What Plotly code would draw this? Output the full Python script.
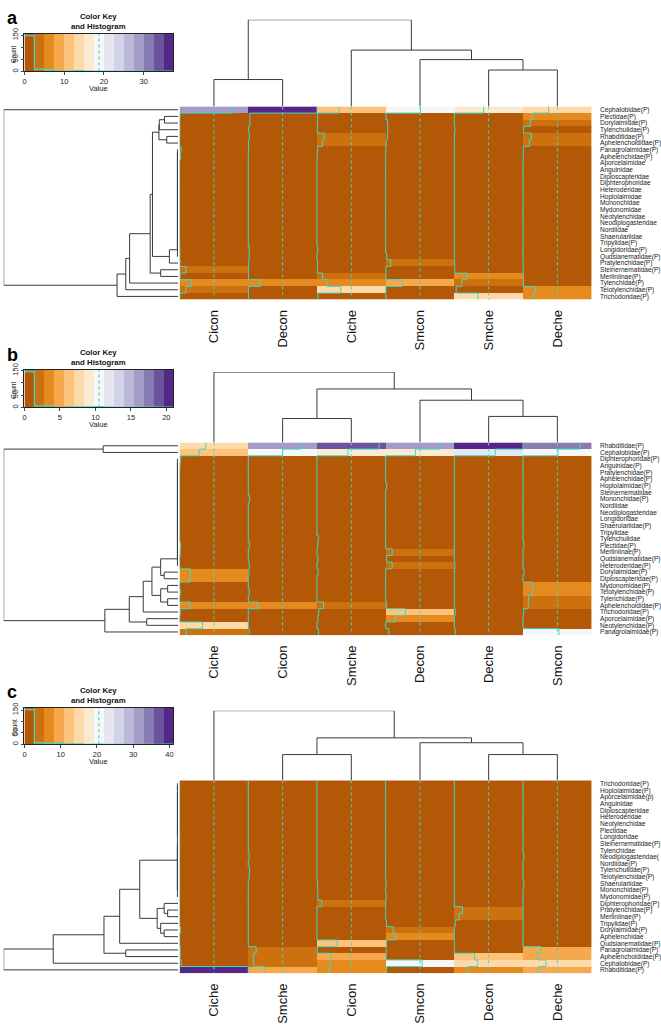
import numpy as np
import plotly.graph_objects as go

W, H = 661, 1024

# ------------------------------------------------------------------ data
anchor_colors = ["#b35806", "#e08214", "#fdb863", "#fee0b6", "#f7f7f7",
                 "#d8daeb", "#b2abd2", "#8073ac", "#542788"]
n_colors = 15


def comb(leaves, h):
    """left-deep merge of (near) identical rows at height h"""
    node = leaves[0]
    for leaf in leaves[1:]:
        node = [h, node, leaf]
    return node


samples_a = ["Cicon", "Decon", "Ciche", "Smcon", "Smche", "Deche"]
families_a = ["Cephalobidae(P)", "Plectidae(P)", "Dorylaimidae(P)", "Tylenchulidae(P)", "Rhabditidae(P)",
              "Aphelenchoididae(P)", "Panagrolaimidae(P)", "Aphelenchidae(P)", "Aporcelaimidae", "Anguinidae",
              "Diploscapteridae", "Diphterophoridae", "Heteroderidae", "Hoplolaimidae", "Mononchidae",
              "Mydonomidae", "Neotylenchidae", "Neodiplogasteridae", "Nordiidae", "Shaerulariidae",
              "Tripylidae(P)", "Longidoridae(P)", "Qudsianematidae(P)", "Pratylenchidae(P)",
              "Steinernematidae(P)", "Merliniinae(P)", "Tylenchidae(P)", "Telotylenchidae(P)", "Trichodoridae(P)"]
values_a = [
    [29.0, 37.5, 12.0, 19.0, 16.0, 14.0],
    [0.2, 0.9, 0.4, 0.2, 0.0, 5.0],
    [0.1, 0.9, 0.3, 1.0, 0.0, 4.0],
    [0.1, 0.2, 0.2, 1.2, 0.3, 0.3],
    [0.1, 0.6, 4.0, 1.0, 0.1, 4.5],
    [0.0, 0.2, 3.0, 0.3, 0.0, 3.5],
    [0.8, 0.1, 0.4, 0.1, 0.0, 0.2],
    [0.5, 0.0, 0.1, 0.0, 0.0, 0.1],
    [0.0, 0.0, 0.0, 0.0, 0.0, 0.0],
    [0.0, 0.0, 0.0, 0.0, 0.0, 0.0],
    [0.0, 0.0, 0.0, 0.0, 0.0, 0.0],
    [0.0, 0.0, 0.0, 0.0, 0.0, 0.0],
    [0.0, 0.0, 0.0, 0.0, 0.0, 0.0],
    [0.0, 0.0, 0.0, 0.0, 0.0, 0.0],
    [0.0, 0.0, 0.0, 0.0, 0.0, 0.0],
    [0.0, 0.0, 0.0, 0.0, 0.0, 0.0],
    [0.0, 0.0, 0.0, 0.0, 0.0, 0.0],
    [0.0, 0.0, 0.0, 0.0, 0.0, 0.0],
    [0.0, 0.0, 0.0, 0.0, 0.0, 0.0],
    [0.0, 0.0, 0.0, 0.0, 0.0, 0.0],
    [0.0, 0.0, 0.0, 0.0, 0.0, 0.0],
    [0.1, 0.5, 0.4, 0.0, 0.0, 0.0],
    [0.1, 0.5, 0.0, 0.6, 0.0, 0.0],
    [0.2, 0.3, 0.3, 2.9, 0.2, 0.1],
    [3.4, 0.1, 0.2, 0.1, 0.2, 0.1],
    [0.3, 0.1, 3.0, 0.2, 7.0, 0.2],
    [6.3, 6.5, 5.4, 9.0, 4.1, 0.3],
    [3.4, 0.1, 13.0, 0.1, 1.0, 6.8],
    [0.3, 0.1, 0.5, 0.1, 13.0, 5.8],
]
col_tree_a = [1.0, [0.31, 0, 1], [0.65, 2, [0.54, 3, [0.42, 4, 5]]]]
zero_a = [0.05, comb(list(range(6, 23)), 0.004), 23]
top_a = [0.11, [0.108, [0.078, 1, 2], 3], [0.065, 4, 5]]
row_tree_a = [1.0, 0, [0.35, [0.30, [0.278, [0.16, [0.147, top_a, zero_a], [0.1, 24, 25]], 26], 27], 28]]

samples_b = ["Ciche", "Cicon", "Smche", "Decon", "Deche", "Smcon"]
families_b = ["Rhabditidae(P)", "Cephalobidae(P)", "Diphterophoridae(P)", "Anguinidae(P)", "Pratylenchidae(P)",
              "Aphelenchidae(P)", "Hoplolaimidae(P)", "Steinernematidae", "Mononchidae(P)", "Nordiidae",
              "Neodiplogasteridae", "Longidoridae", "Shaerulariidae(P)", "Tripylidae", "Tylenchulidae",
              "Plectidae(P)", "Merliniinae(P)", "Qudsianematidae(P)", "Heteroderidae(P)", "Dorylaimidae(P)",
              "Diploscapteridae(P)", "Mydonomidae(P)", "Telotylenchidae(P)", "Tylenchidae(P)",
              "Aphelenchoididae(P)", "Trichodoridae(P)", "Aporcelaimidae(P)", "Neotylenchidae(P)",
              "Panagrolaimidae(P)"]
values_b = [
    [8.0, 16.0, 19.0, 16.5, 21.0, 17.5],
    [6.0, 10.5, 9.5, 9.1, 12.5, 10.7],
    [0.3, 0.0, 0.0, 0.0, 0.0, 0.0],
    [0.1, 0.0, 0.0, 0.0, 0.0, 0.0],
    [0.0, 0.0, 0.0, 0.0, 0.0, 0.0],
    [0.0, 0.0, 0.0, 0.0, 0.0, 0.0],
    [0.0, 0.0, 0.0, 0.3, 0.0, 0.0],
    [0.0, 0.0, 0.0, 0.0, 0.0, 0.0],
    [0.0, 0.4, 0.0, 0.0, 0.0, 0.0],
    [0.0, 0.0, 0.0, 0.0, 0.0, 0.0],
    [0.0, 0.0, 0.0, 0.0, 0.0, 0.0],
    [0.0, 0.0, 0.0, 0.0, 0.0, 0.0],
    [0.0, 0.0, 0.0, 0.0, 0.0, 0.0],
    [0.0, 0.0, 0.0, 0.0, 0.0, 0.0],
    [0.0, 0.0, 0.4, 0.0, 0.0, 0.0],
    [0.3, 0.3, 0.2, 0.0, 0.0, 0.3],
    [0.2, 0.0, 0.0, 2.0, 0.0, 0.0],
    [0.0, 0.0, 0.3, 0.3, 0.0, 0.0],
    [0.0, 0.3, 0.0, 2.0, 0.2, 0.0],
    [3.3, 0.2, 0.3, 0.0, 0.0, 0.3],
    [3.2, 0.0, 0.0, 0.0, 0.0, 0.0],
    [0.0, 0.0, 0.0, 0.0, 0.0, 2.9],
    [0.2, 0.3, 0.0, 0.0, 0.0, 3.0],
    [0.0, 0.0, 0.0, 0.0, 0.0, 1.7],
    [3.2, 3.0, 2.0, 0.3, 0.0, 1.6],
    [0.2, 0.0, 0.5, 6.0, 0.3, 0.2],
    [0.0, 0.0, 0.3, 3.0, 0.0, 0.0],
    [7.0, 0.0, 0.0, 0.0, 0.0, 0.0],
    [2.0, 0.3, 0.5, 1.0, 0.3, 11.0],
]
col_tree_b = [1.0, 0, [0.76, [0.34, 1, 2], [0.6, 3, [0.37, 4, 5]]]]
zero_b = comb(list(range(2, 19)), 0.004)
mid_b = [0.15, [0.1, zero_b, [0.08, 19, 20]], [0.1, [0.06, 21, 22], [0.06, 23, 24]]]
row_tree_b = [1.0, [0.43, 0, 1], [0.42, [0.28, [0.2, mid_b, 25], [0.18, 26, 27]], 28]]

samples_c = ["Ciche", "Smche", "Cicon", "Smcon", "Decon", "Deche"]
families_c = ["Trichodoridae(P)", "Hoplolaimidae(P)", "Aporcelaimidae(p)", "Anguinidae", "Diploscapteridae",
              "Heteroderidae", "Neotylenchidae", "Plectidae", "Longidoridae", "Steinernematidae(P)",
              "Tylenchidae", "Neodiplogasteridae(", "Nordiidae(P)", "Tylenchulidae(P)", "Telotylenchidae(P)",
              "Shaerulariidae", "Mononchidae(P)", "Mydonomidae(P)", "Diphterophoridae(P)", "Pratylenchidae(P)",
              "Merliniinae(P)", "Tripylidae(P)", "Dorylaimidae(P)", "Aphelenchidae", "Qudsianematidae(P)",
              "Panagrolaimidae(P)", "Aphelenchoididae(P)", "Cephalobidae(P)", "Rhabditidae(P)"]
values_c = [
    [0.0, 0.0, 0.0, 0.0, 0.0, 0.0],
    [0.0, 0.0, 0.0, 0.0, 0.0, 0.0],
    [0.0, 0.0, 0.0, 0.0, 0.0, 0.0],
    [0.0, 0.0, 0.0, 0.0, 0.0, 0.0],
    [0.0, 0.0, 0.0, 0.0, 0.0, 0.0],
    [0.0, 0.0, 0.0, 0.0, 0.0, 0.0],
    [0.0, 0.0, 0.0, 0.0, 0.0, 0.0],
    [0.0, 0.0, 0.0, 0.0, 0.0, 0.0],
    [0.0, 0.0, 0.0, 0.0, 0.0, 0.0],
    [0.0, 0.0, 0.0, 0.0, 0.0, 0.0],
    [0.0, 0.0, 0.0, 0.0, 0.0, 0.0],
    [0.0, 0.5, 0.0, 0.0, 0.0, 0.5],
    [0.0, 0.0, 0.0, 0.0, 0.0, 0.0],
    [0.0, 0.8, 0.0, 0.0, 0.0, 0.0],
    [0.0, 0.5, 0.0, 0.0, 0.0, 0.0],
    [0.0, 0.0, 0.3, 0.3, 0.0, 0.5],
    [0.0, 0.0, 0.5, 0.0, 0.0, 0.0],
    [0.0, 0.0, 0.5, 0.3, 0.0, 0.0],
    [0.0, 0.0, 2.9, 0.0, 0.0, 0.0],
    [0.0, 0.0, 0.0, 0.0, 4.9, 0.0],
    [0.0, 0.0, 0.0, 0.0, 2.8, 0.0],
    [0.0, 0.0, 0.0, 0.5, 0.5, 0.0],
    [0.5, 0.0, 0.0, 4.5, 0.0, 0.0],
    [0.0, 0.0, 0.0, 6.0, 0.0, 0.0],
    [0.0, 0.0, 12.0, 0.5, 0.0, 0.0],
    [0.4, 4.7, 0.2, 0.4, 0.0, 10.7],
    [0.3, 3.0, 8.5, 0.3, 12.0, 8.7],
    [1.0, 3.0, 8.0, 21.8, 14.0, 13.7],
    [41.0, 10.0, 7.0, 0.5, 8.0, 9.0],
]
col_tree_c = [1.0, 0, [0.61, [0.37, 1, 2], [0.54, 3, [0.37, 4, 5]]]]
zero_c = [0.004, comb(list(range(0, 9)), 0.004), comb(list(range(9, 18)), 0.004)]
low_c = [0.12, [0.08, 18, [0.06, 19, 20]], [0.1, 21, [0.08, 22, 23]]]
row_tree_c = [1.0, [0.716, [0.425, [0.335, [0.22, zero_c, low_c], 24], [0.30, 25, 26]], 27], 28]

# ------------------------------------------------------------------ geometry (pixels)
panels = [
    dict(letter="a", letter_y=0, samples=samples_a, families=families_a, values=values_a,
         col_tree=col_tree_a, row_tree=row_tree_a, key_ticks=[0, 10, 20, 30],
         hm=(179.5, 596.0, 102.3, 299.3), cd_top=14.0, rd_left=1.7, key=(22.7, 173.3, 28.3, 66.7)),
    dict(letter="b", letter_y=343, samples=samples_b, families=families_b, values=values_b,
         col_tree=col_tree_b, row_tree=row_tree_b, key_ticks=[0, 5, 10, 15, 20],
         hm=(179.5, 596.0, 444.7, 641.2), cd_top=373.0, rd_left=1.7, key=(22.7, 173.3, 370.5, 409.0)),
    dict(letter="c", letter_y=687, samples=samples_c, families=families_c, values=values_c,
         col_tree=col_tree_c, row_tree=row_tree_c, key_ticks=[0, 10, 20, 30, 40],
         hm=(179.5, 596.0, 789.0, 985.5), cd_top=718.0, rd_left=1.7, key=(22.7, 173.0, 715.0, 752.3)),
]

TRACE = "#3fd8c8"
LINE = "#3a3a3a"
FONT = "Liberation Sans, Arial, sans-serif"


def fx(x):
    return x / W


def fy(y):
    return 1 - y / H


def hex2rgb(h):
    return np.array([int(h[i:i + 2], 16) for i in (1, 3, 5)], dtype=float)


def ramp(anchors, n):
    arr = np.array([hex2rgb(c) for c in anchors])
    t = np.linspace(0, len(anchors) - 1, n)
    out = []
    for v in t:
        i = min(int(np.floor(v)), len(anchors) - 2)
        f = v - i
        c = arr[i] * (1 - f) + arr[i + 1] * f
        out.append("rgb(%d,%d,%d)" % tuple(np.round(c)))
    return out


palette = ramp(anchor_colors, n_colors)
cscale = []
for k, c in enumerate(palette):
    cscale.append([k / n_colors, c])
    cscale.append([(k + 1) / n_colors, c])


def tree_segments(tree):
    segs = []

    def rec(node):
        if isinstance(node, int):
            return float(node), 0.0
        h, a, b = node
        pa, ha = rec(a)
        pb, hb = rec(b)
        segs.append([(pa, ha), (pa, h), (pb, h), (pb, hb)])
        return (pa + pb) / 2.0, h

    rec(tree)
    return segs


fig = go.Figure()
layout = dict(width=W, height=H, margin=dict(l=0, r=0, t=0, b=0), showlegend=False,
              plot_bgcolor="white", paper_bgcolor="white", font=dict(family=FONT, color="#000"))
annotations = []


def axname(n, kind):
    return kind if n == 1 else "%s%d" % (kind, n)


def laykey(n, kind):
    return kind + "axis" if n == 1 else "%saxis%d" % (kind, n)


for p, P in enumerate(panels):
    vals = np.array(P["values"], dtype=float)
    nr, nc = vals.shape
    vmax = vals.max()
    breaks = np.linspace(0, vmax, n_colors + 1)
    x0, x1, y0, y1 = P["hm"]
    ids = [4 * p + 1, 4 * p + 2, 4 * p + 3, 4 * p + 4]
    hide = dict(visible=False, showgrid=False, zeroline=False)

    # --- heatmap
    n = ids[0]
    xr, yr = axname(n, "x"), axname(n, "y")
    fig.add_trace(go.Heatmap(z=vals, x=list(range(nc)), y=list(range(nr)), colorscale=cscale,
                             zmin=0, zmax=vmax, showscale=False, xaxis=xr, yaxis=yr, hoverinfo="skip"))
    for j in range(nc):
        fig.add_trace(go.Scatter(x=[j, j], y=[-0.5, nr - 0.5], mode="lines", xaxis=xr, yaxis=yr,
                                 line=dict(color=TRACE, width=1, dash="3px,3px"), hoverinfo="skip"))
        xs = list(j - 0.5 + vals[:, j] / vmax) + [j - 0.5 + vals[-1, j] / vmax]
        ys = [r - 0.5 for r in range(nr)] + [nr - 0.5]
        fig.add_trace(go.Scatter(x=xs, y=ys, mode="lines", line_shape="vh", xaxis=xr, yaxis=yr,
                                 line=dict(color=TRACE, width=1), hoverinfo="skip", cliponaxis=False))
    layout[laykey(n, "x")] = dict(domain=[fx(x0), fx(x1)], range=[-0.5, nc - 0.5], anchor=yr,
                                  tickvals=list(range(nc)), ticktext=P["samples"], tickangle=-90,
                                  tickfont=dict(size=13, color="#111"), ticks="outside", ticklen=4,
                                  tickcolor="rgba(0,0,0,0)", showgrid=False, zeroline=False, showline=False)
    layout[laykey(n, "y")] = dict(domain=[fy(y1), fy(y0)], range=[nr - 0.5, -0.5], anchor=xr, side="right",
                                  tickvals=list(range(nr)), ticktext=P["families"],
                                  tickfont=dict(size=6.6, color="#222"), ticks="outside", ticklen=6,
                                  tickcolor="rgba(0,0,0,0)", showgrid=False, zeroline=False, showline=False)

    # --- column dendrogram
    n = ids[1]
    xr, yr = axname(n, "x"), axname(n, "y")
    ct = P["col_tree"]
    lx, ly = [], []
    for s in tree_segments(ct):
        lx += [pt[0] for pt in s] + [None]
        ly += [pt[1] for pt in s] + [None]
    fig.add_trace(go.Scatter(x=lx, y=ly, mode="lines", xaxis=xr, yaxis=yr, cliponaxis=False,
                             line=dict(color=LINE, width=1), hoverinfo="skip"))
    layout[laykey(n, "x")] = dict(domain=[fx(x0), fx(x1)], range=[-0.5, nc - 0.5], anchor=yr, **hide)
    layout[laykey(n, "y")] = dict(domain=[fy(y0), fy(P["cd_top"])], range=[0, ct[0]], anchor=xr, **hide)

    # --- row dendrogram
    n = ids[2]
    xr, yr = axname(n, "x"), axname(n, "y")
    rt = P["row_tree"]
    lx, ly = [], []
    for s in tree_segments(rt):
        lx += [pt[1] for pt in s] + [None]
        ly += [pt[0] for pt in s] + [None]
    fig.add_trace(go.Scatter(x=lx, y=ly, mode="lines", xaxis=xr, yaxis=yr, cliponaxis=False,
                             line=dict(color=LINE, width=1), hoverinfo="skip"))
    layout[laykey(n, "x")] = dict(domain=[fx(P["rd_left"]), fx(x0 - 1.5)], range=[rt[0], 0], anchor=yr, **hide)
    layout[laykey(n, "y")] = dict(domain=[fy(y1), fy(y0)], range=[nr - 0.5, -0.5], anchor=xr, **hide)

    # --- colour key with histogram
    n = ids[3]
    xr, yr = axname(n, "x"), axname(n, "y")
    k0, k1, k2, k3 = P["key"]
    mids = (breaks[:-1] + breaks[1:]) / 2
    fig.add_trace(go.Heatmap(z=[mids], x=mids, y=[0.5], colorscale=cscale, zmin=0, zmax=vmax,
                             showscale=False, xaxis=xr, yaxis=yr, hoverinfo="skip"))
    counts = np.histogram(vals.ravel(), bins=breaks)[0]
    hy = np.append(counts, counts[-1]).astype(float)
    top = hy.max()
    fig.add_trace(go.Scatter(x=breaks, y=hy / top * 0.95, mode="lines", line_shape="hv", xaxis=xr, yaxis=yr,
                             line=dict(color=TRACE, width=1.3), hoverinfo="skip", cliponaxis=False))
    fig.add_trace(go.Scatter(x=[vmax / 2, vmax / 2], y=[0, 1], mode="lines", xaxis=xr, yaxis=yr,
                             line=dict(color=TRACE, width=1.2, dash="3px,3px"), hoverinfo="skip"))
    cticks = [0, 50, 100, 150]
    layout[laykey(n, "x")] = dict(domain=[fx(k0), fx(k1)], range=[0, vmax], anchor=yr,
                                  tickvals=P["key_ticks"], ticks="outside", ticklen=3, tickwidth=0.8,
                                  tickfont=dict(size=7.5, color="#222"), showline=True, mirror=True,
                                  linecolor="#222", linewidth=0.8, showgrid=False, zeroline=False)
    layout[laykey(n, "y")] = dict(domain=[fy(k3), fy(k2)], range=[0, 1], anchor=xr,
                                  tickvals=[c / top * 0.95 for c in cticks],
                                  ticktext=["0", "50", "", "150"], tickangle=-90,
                                  ticks="outside", ticklen=3, tickwidth=0.8,
                                  tickfont=dict(size=7.5, color="#222"), showline=True, mirror=True,
                                  linecolor="#222", linewidth=0.8, showgrid=False, zeroline=False)
    kc = (k0 + k1) / 2
    annotations.append(dict(text="<b>Color Key</b><br><b>and Histogram</b>", x=fx(kc), y=fy(k2 - 1),
                            xref="paper", yref="paper", xanchor="center", yanchor="bottom", showarrow=False,
                            font=dict(size=7.8, color="#111"), align="center"))
    annotations.append(dict(text="Value", x=fx(kc), y=fy(k3 + 17), xref="paper", yref="paper",
                            xanchor="center", yanchor="middle", showarrow=False,
                            font=dict(size=7.5, color="#222")))
    annotations.append(dict(text="Count", x=fx(k0 - 11), y=fy((k2 + k3) / 2 + 2), xref="paper", yref="paper",
                            xanchor="center", yanchor="middle", showarrow=False, textangle=-90,
                            font=dict(size=6.5, color="#222")))
    annotations.append(dict(text="<b>%s</b>" % P["letter"], x=fx(3), y=fy(P["letter_y"]), xref="paper",
                            yref="paper", xanchor="left", yanchor="top", showarrow=False,
                            font=dict(size=18, color="#000")))

layout["annotations"] = annotations
fig.update_layout(**layout)
fig.write_html("out.html", config={"displayModeBar": False},
               post_script="document.body.style.margin='0';document.body.style.padding='0';"
                           "document.body.style.overflow='hidden';")
